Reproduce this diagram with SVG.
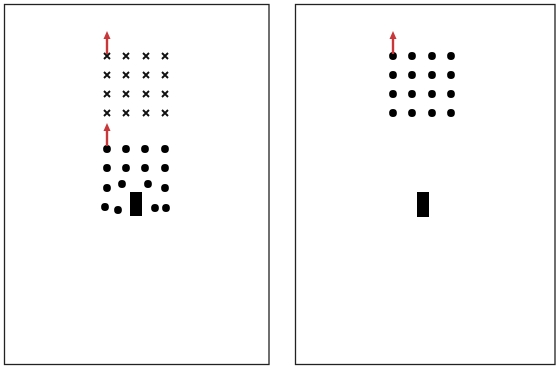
<svg xmlns="http://www.w3.org/2000/svg" width="557" height="366" viewBox="0 0 557 366">
<style>
.panel{fill:#fff;stroke:#222;stroke-width:1.3}
.x{stroke:#111;stroke-width:1.9}
.d{fill:#000}
.arr{stroke:#c8383a;stroke-width:2.4;fill:none}
.ah{fill:#c8383a}
</style>
<defs>
<g id="cr"><path class="x" d="M-3,-3L3,3M-3,3L3,-3"/></g>
<g id="up"><line class="arr" x1="0" y1="0" x2="0" y2="-18"/><path class="ah" d="M-3.5,-15L0,-23L3.5,-15Z"/></g>
</defs>
<rect class="panel" x="4.5" y="4.5" width="264.5" height="360"/>
<rect class="panel" x="295.5" y="4.5" width="259.5" height="360"/>
<g id="left-crosses">
<use href="#cr" x="107" y="56"/><use href="#cr" x="126" y="56"/><use href="#cr" x="146" y="56"/><use href="#cr" x="165" y="56"/>
<use href="#cr" x="107" y="75"/><use href="#cr" x="126" y="75"/><use href="#cr" x="146" y="75"/><use href="#cr" x="165" y="75"/>
<use href="#cr" x="107" y="94"/><use href="#cr" x="126" y="94"/><use href="#cr" x="146" y="94"/><use href="#cr" x="165" y="94"/>
<use href="#cr" x="107" y="113"/><use href="#cr" x="126" y="113"/><use href="#cr" x="146" y="113"/><use href="#cr" x="165" y="113"/>
</g>
<g id="left-dots">
<circle class="d" cx="107" cy="149" r="3.9"/><circle class="d" cx="126" cy="149" r="3.9"/><circle class="d" cx="145" cy="149" r="3.9"/><circle class="d" cx="165" cy="149" r="3.9"/>
<circle class="d" cx="107" cy="168" r="3.9"/><circle class="d" cx="126" cy="168" r="3.9"/><circle class="d" cx="145" cy="168" r="3.9"/><circle class="d" cx="165" cy="168" r="3.9"/>
<circle class="d" cx="107" cy="188" r="3.9"/><circle class="d" cx="122" cy="184" r="3.9"/><circle class="d" cx="148" cy="184" r="3.9"/><circle class="d" cx="165" cy="188" r="3.9"/>
<circle class="d" cx="105" cy="207" r="3.9"/><circle class="d" cx="118" cy="210" r="3.9"/><circle class="d" cx="155" cy="208" r="3.9"/><circle class="d" cx="166" cy="208" r="3.9"/>
<rect x="130" y="192" width="12" height="24" fill="#000"/>
</g>
<g id="right-dots">
<circle class="d" cx="393" cy="56" r="3.9"/><circle class="d" cx="412" cy="56" r="3.9"/><circle class="d" cx="432" cy="56" r="3.9"/><circle class="d" cx="451" cy="56" r="3.9"/>
<circle class="d" cx="393" cy="75" r="3.9"/><circle class="d" cx="412" cy="75" r="3.9"/><circle class="d" cx="432" cy="75" r="3.9"/><circle class="d" cx="451" cy="75" r="3.9"/>
<circle class="d" cx="393" cy="94" r="3.9"/><circle class="d" cx="412" cy="94" r="3.9"/><circle class="d" cx="432" cy="94" r="3.9"/><circle class="d" cx="451" cy="94" r="3.9"/>
<circle class="d" cx="393" cy="113" r="3.9"/><circle class="d" cx="412" cy="113" r="3.9"/><circle class="d" cx="432" cy="113" r="3.9"/><circle class="d" cx="451" cy="113" r="3.9"/>
<rect x="417" y="192" width="12" height="25" fill="#000"/>
</g>
<g id="arrows">
<use href="#up" x="107" y="54"/>
<use href="#up" x="107" y="146"/>
<use href="#up" x="393" y="54"/>
</g>
</svg>
